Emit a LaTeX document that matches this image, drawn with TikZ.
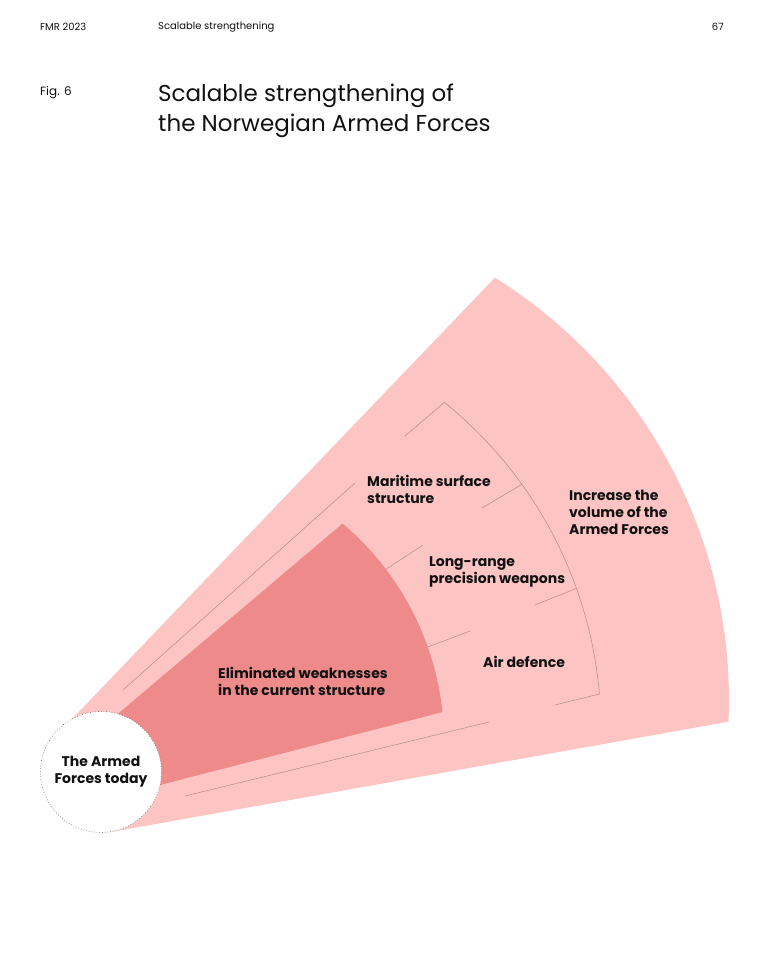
\documentclass[tikz,border=0pt]{standalone}
\usepackage{fontspec}
\setmainfont{Poppins}
\usetikzlibrary{calc}
\definecolor{fanlight}{HTML}{FDC4C4}
\definecolor{fandark}{HTML}{EE8A8A}
\definecolor{rulegrey}{HTML}{B08C8C}
\definecolor{ink}{HTML}{111111}

\begin{document}
\begin{tikzpicture}[x=1pt,y=1pt,
	head/.style={inner sep=0pt,text=ink,font=\fontsize{10}{12}\selectfont},
	fanlabel/.style={inner sep=0pt,anchor=west,align=left,text=ink,font=\fontsize{14}{17}\selectfont\bfseries},
	divider/.style={draw=rulegrey,line width=0.5pt}]
	\useasboundingbox (0,0) rectangle (771,970);
	\coordinate (oc) at (231,270);
	\coordinate (dc) at (158,228);
	\coordinate (bc) at (180,240);
	\fill[fanlight] (72,251) -- ($(oc)+(58:498)$) arc[start angle=58,end angle=-2.5,radius=498] -- (111,138) -- (101,198) -- cycle;
	\fill[fandark] (100,241) -- ($(dc)+(49.8:286)$) arc[start angle=49.8,end angle=6,radius=286] -- (100,169.5) -- cycle;
	\draw[divider] (123,280) -- (355,487);
	\draw[divider] (185,174) -- (489,248);
	\draw[divider] (405,534) -- ($(bc)+(51.1:421)$) arc[start angle=51.1,end angle=4.9,radius=421] -- (555,265);
	\draw[divider] ($(bc)+(35.7:421)$) -- (482,462);
	\draw[divider] ($(bc)+(19.65:421)$) -- (535,365);
	\draw[divider] ($(dc)+(37.15:286)$) -- (423,425);
	\draw[divider] ($(dc)+(19.4:286)$) -- (470,339);
	\node[circle,minimum size=121pt,fill=white,draw=rulegrey!80!black,dotted,line width=0.7pt] (today) at (101,198) {};
	\node[inner sep=0pt,align=center,text=ink,font=\fontsize{14}{17}\selectfont\bfseries] (todaytext) at (today) {The Armed\\Forces today};
	\node[fanlabel] (weak) at (218,288.5) {Eliminated weaknesses\\in the current structure};
	\node[fanlabel] (maritime) at (367,481) {Maritime surface\\structure};
	\node[fanlabel] (longrange) at (429,398.5) {Long-range\\precision weapons};
	\node[fanlabel] (airdef) at (483,308) {Air defence};
	\node[fanlabel] (volume) at (569,458) {Increase the\\volume of the\\Armed Forces};
	\node[head,anchor=west] (fmr) at (40,943) {FMR 2023};
	\node[head,anchor=west] (runhead) at (158,943) {Scalable strengthening};
	\node[head,anchor=east] (page) at (724,943) {67};
	\node[head,anchor=west,font=\fontsize{12}{14}\selectfont] (fig) at (40,877) {Fig. 6};
	\node[inner sep=0pt,anchor=north west,align=left,text=ink,font=\fontsize{23}{30}\selectfont] (title) at (158,886) {Scalable strengthening of\\the Norwegian Armed Forces};
\end{tikzpicture}
\end{document}
